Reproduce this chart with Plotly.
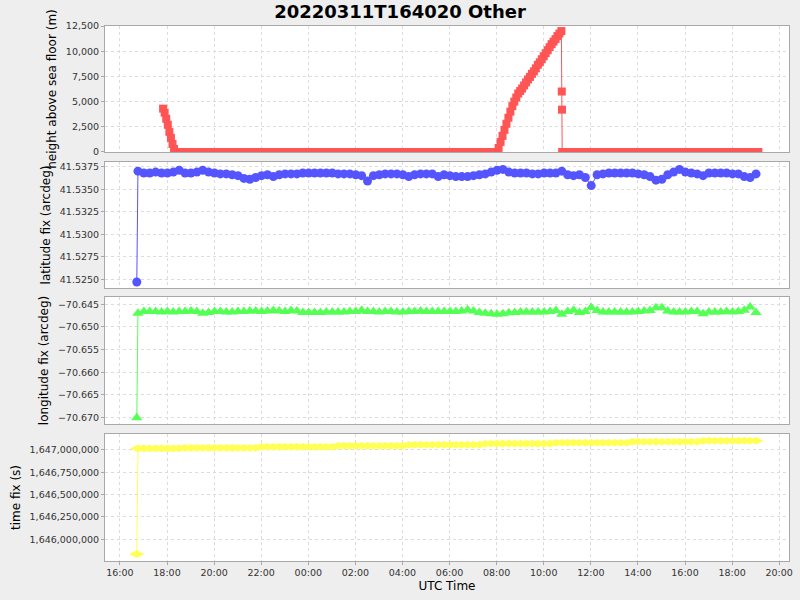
import pandas as pd
import plotly.graph_objects as go
from plotly.subplots import make_subplots

TITLE = "20220311T164020 Other"

# ---------------- height above sea floor ----------------
height_descent_t = ["2022-03-11 17:50", "2022-03-11 17:54", "2022-03-11 17:58", "2022-03-11 18:02",
                    "2022-03-11 18:06", "2022-03-11 18:10", "2022-03-11 18:14", "2022-03-11 18:18",
                    "2022-03-11 18:22"]
height_descent_v = [4300, 3900, 3300, 2700, 2000, 1400, 800, 300, 0]

height_ground1_start, height_ground1_end = "2022-03-11 18:30", "2022-03-12 07:45"
height_ground1_v = [0, 0, 0, 0, 0, 0, 0, 0, 0, 0, 0, 0, 0, 0, 0, 0, 0, 0,
                    0, 0, 0, 0, 0, 0, 0, 0, 0, 0, 0, 0, 0, 0, 0, 0, 0, 0,
                    0, 0, 0, 0, 0, 0, 0, 0, 0, 0, 0, 0, 0, 0, 0, 0, 0, 0]

height_ascent_start, height_ascent_end = "2022-03-12 08:00", "2022-03-12 10:45"
height_ascent_v = [0, 400, 1000, 1600, 2200, 2800, 3400, 4000, 4550, 5000, 5400, 5800,
                   6050, 6300, 6600, 6900, 7200, 7450, 7750, 8000, 8300, 8650, 8900, 9200,
                   9500, 9800, 10100, 10400, 10700, 10950, 11200, 11500, 11750, 12000]

height_drop_t = ["2022-03-12 10:46", "2022-03-12 10:46:30", "2022-03-12 10:47"]
height_drop_v = [6000, 4200, 0]

height_ground2_start, height_ground2_end = "2022-03-12 10:52", "2022-03-12 19:07"
height_ground2_v = [0, 0, 0, 0, 0, 0, 0, 0, 0, 0, 0, 0, 0, 0, 0, 0, 0,
                    0, 0, 0, 0, 0, 0, 0, 0, 0, 0, 0, 0, 0, 0, 0, 0, 0]

# ---------------- fixes (lat / lon / time) ----------------
fix_first_t = "2022-03-11 16:43"
fix_grid_start = "2022-03-11 16:46"
lat_first = 41.5247
lat_vals = [
    41.5370, 41.5368, 41.5368, 41.5369, 41.5368, 41.5368, 41.5369, 41.5371, 41.5368, 41.5368,
    41.5369, 41.5371, 41.5369, 41.5368, 41.5367, 41.5367, 41.5366, 41.5365, 41.5362, 41.5361,
    41.5363, 41.5365, 41.5366, 41.5364, 41.5366, 41.5367, 41.5367, 41.5367, 41.5368, 41.5368,
    41.5368, 41.5368, 41.5368, 41.5368, 41.5367, 41.5367, 41.5367, 41.5366, 41.5365, 41.5359,
    41.5365, 41.5366, 41.5367, 41.5367, 41.5367, 41.5366, 41.5364, 41.5366, 41.5367, 41.5367,
    41.5367, 41.5364, 41.5366, 41.5365, 41.5364, 41.5364, 41.5364, 41.5365, 41.5366, 41.5367,
    41.5369, 41.5371, 41.5372, 41.5369, 41.5368, 41.5368, 41.5368, 41.5367, 41.5367, 41.5368,
    41.5368, 41.5368, 41.5370, 41.5366, 41.5365, 41.5366, 41.5363, 41.5354, 41.5366, 41.5367,
    41.5368, 41.5368, 41.5368, 41.5368, 41.5368, 41.5367, 41.5366, 41.5364, 41.5360, 41.5361,
    41.5366, 41.5369, 41.5372, 41.5369, 41.5368, 41.5367, 41.5365, 41.5368, 41.5368, 41.5368,
    41.5368, 41.5367, 41.5367, 41.5364, 41.5363, 41.5367]

lon_first = -70.6700
lon_vals = [
    -70.6470, -70.6466, -70.6466, -70.6466, -70.6467, -70.6466, -70.6467, -70.6466, -70.6466, -70.6465,
    -70.6466, -70.6470, -70.6468, -70.6466, -70.6466, -70.6467, -70.6467, -70.6466, -70.6466, -70.6465,
    -70.6465, -70.6466, -70.6465, -70.6464, -70.6465, -70.6466, -70.6464, -70.6465, -70.6468, -70.6468,
    -70.6468, -70.6468, -70.6467, -70.6467, -70.6467, -70.6467, -70.6466, -70.6466, -70.6463, -70.6466,
    -70.6466, -70.6467, -70.6466, -70.6466, -70.6467, -70.6467, -70.6466, -70.6466, -70.6465, -70.6466,
    -70.6466, -70.6466, -70.6466, -70.6466, -70.6466, -70.6465, -70.6462, -70.6465, -70.6468, -70.6470,
    -70.6471, -70.6472, -70.6471, -70.6469, -70.6468, -70.6467, -70.6467, -70.6467, -70.6467, -70.6467,
    -70.6466, -70.6464, -70.6472, -70.6466, -70.6463, -70.6468, -70.6466, -70.6457, -70.6464, -70.6467,
    -70.6467, -70.6467, -70.6467, -70.6467, -70.6467, -70.6466, -70.6465, -70.6464, -70.6458, -70.6458,
    -70.6465, -70.6467, -70.6467, -70.6467, -70.6466, -70.6466, -70.6471, -70.6467, -70.6467, -70.6467,
    -70.6466, -70.6467, -70.6466, -70.6463, -70.6456, -70.6468]

timefix_first = 1645835000
timefix_vals = [
    1647017000, 1647017000, 1647017000, 1647017000, 1647017000, 1647017000, 1647017000, 1647017000,
    1647024000, 1647024000, 1647024000, 1647024000, 1647024000, 1647024000, 1647024000, 1647024000,
    1647024000, 1647024000, 1647024000, 1647024000, 1647024000,
    1647035800, 1647035800, 1647035800, 1647035800, 1647035800, 1647035800, 1647035800, 1647035800,
    1647035800, 1647035800, 1647035800, 1647035800, 1647035800,
    1647047000, 1647047000, 1647047000, 1647047000, 1647047000, 1647047000, 1647047000, 1647047000,
    1647047000, 1647047000, 1647047000, 1647047000,
    1647058300, 1647058300, 1647058300, 1647058300, 1647058300, 1647058300, 1647058300, 1647058300,
    1647058300, 1647058300, 1647058300, 1647058300, 1647058300,
    1647069700, 1647069700,
    1647071900, 1647071900, 1647071900, 1647071900, 1647071900, 1647071900, 1647071900, 1647071900,
    1647071900, 1647071900,
    1647080800, 1647080800, 1647080800, 1647080800, 1647080800, 1647080800, 1647080800, 1647080800,
    1647080800, 1647080800, 1647080800, 1647080800, 1647080800,
    1647092000, 1647092000, 1647092000, 1647092000, 1647092000, 1647092000, 1647092000, 1647092000,
    1647092000, 1647092000, 1647092000, 1647092000,
    1647103200, 1647103200, 1647103200, 1647103200, 1647103200, 1647103200, 1647103200, 1647103200,
    1647103200, 1647103200]

y_titles = ["height above sea floor (m)", "latitude fix (arcdeg)",
            "longitude fix (arcdeg)", "time fix (s)"]
x_title = "UTC Time"

# ---------------- build x coordinates ----------------
ground1_t = list(pd.date_range(height_ground1_start, height_ground1_end, freq="15min"))
ascent_t = list(pd.date_range(height_ascent_start, height_ascent_end, freq="5min"))
ground2_t = list(pd.date_range(height_ground2_start, height_ground2_end, freq="15min"))
height_t = ([pd.Timestamp(t) for t in height_descent_t] + ground1_t + ascent_t
            + [pd.Timestamp(t) for t in height_drop_t] + ground2_t)
height_v = height_descent_v + height_ground1_v + height_ascent_v + height_drop_v + height_ground2_v

grid_t = list(pd.date_range(fix_grid_start, periods=len(lat_vals), freq="15min"))
fix_t = [pd.Timestamp(fix_first_t)] + grid_t

RED, BLUE, GREEN, YELLOW = "#FF5555", "#5555FF", "#55FF55", "#FFFF55"

fig = make_subplots(rows=4, cols=1, shared_xaxes=True)

fig.add_trace(go.Scatter(x=height_t, y=height_v, mode="lines+markers",
                         line=dict(color=RED, width=1),
                         marker=dict(symbol="square", size=8, color=RED)), row=1, col=1)
fig.add_trace(go.Scatter(x=fix_t, y=[lat_first] + lat_vals, mode="lines+markers",
                         line=dict(color=BLUE, width=1),
                         marker=dict(symbol="circle", size=9, color=BLUE)), row=2, col=1)
fig.add_trace(go.Scatter(x=fix_t, y=[lon_first] + lon_vals, mode="lines+markers",
                         line=dict(color=GREEN, width=1),
                         marker=dict(symbol="triangle-up", size=10, color=GREEN)), row=3, col=1)
fig.add_trace(go.Scatter(x=fix_t, y=[timefix_first] + timefix_vals, mode="lines+markers",
                         line=dict(color=YELLOW, width=1),
                         marker=dict(symbol="diamond-wide", size=11, color=YELLOW)), row=4, col=1)

FONT = "DejaVu Sans"
domains = [[0.7645, 1.0], [0.5103, 0.7458], [0.2561, 0.4935], [0.0, 0.2374]]
ranges = [[0, 12500], [41.52403, 41.53802], [-70.6714, -70.6434], [1645757000, 1647179000]]
dticks = [2500, 0.0025, 0.005, 250000]
formats = [",d", ".4f", ".3f", ",d"]
ticks0 = [0, 41.5250, -70.670, 1646000000]

axis_common = dict(showline=True, linecolor="#a8a8a8", linewidth=1, mirror=True,
                   showgrid=True, gridcolor="#dcdcdc", griddash="3px,3px", gridwidth=1,
                   zeroline=False, tickfont=dict(family=FONT, size=9.5, color="#333333"),
                   ticks="outside", ticklen=3, tickcolor="#a8a8a8")

for i in range(4):
    n = "" if i == 0 else str(i + 1)
    fig.layout["yaxis" + n].update(
        domain=domains[i], range=ranges[i], dtick=dticks[i], tick0=ticks0[i],
        tickformat=formats[i],
        title=dict(text=y_titles[i], font=dict(family=FONT, size=12, color="#000000"), standoff=6),
        **axis_common)
    fig.layout["xaxis" + n].update(
        range=["2022-03-11 15:22", "2022-03-12 20:25"], dtick=7200000,
        tick0="2022-03-11 16:00", tickformat="%H:%M",
        **axis_common)
    if i < 3:
        fig.layout["xaxis" + n].update(showticklabels=False, ticks="")

fig.layout["xaxis4"].update(title=dict(text=x_title, font=dict(family=FONT, size=12, color="#000000"),
                                       standoff=4))

fig.update_layout(
    width=800, height=600,
    margin=dict(l=105, r=7, t=26, b=39),
    paper_bgcolor="#EEEEEE", plot_bgcolor="#FFFFFF",
    showlegend=False,
    title=dict(text="<b>" + TITLE + "</b>", x=0.5, xanchor="center", y=0.98, yanchor="middle",
               font=dict(family=FONT, size=18, color="#000000")),
)

fig.write_html("out.html", config={"displayModeBar": False},
               post_script="document.body.style.margin='0';document.body.style.background='#EEEEEE';")
